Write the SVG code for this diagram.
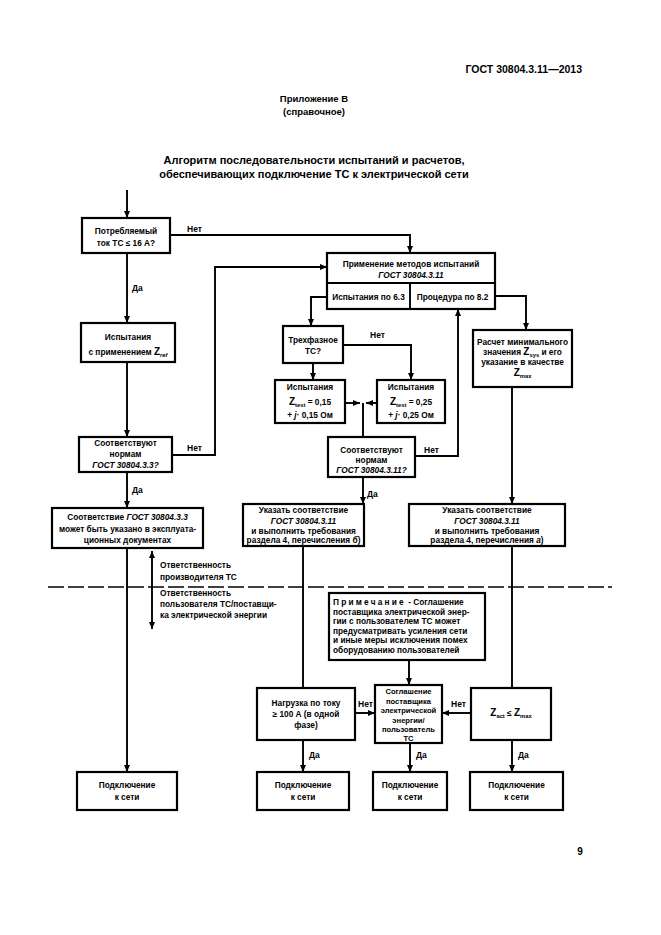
<svg xmlns="http://www.w3.org/2000/svg" width="661" height="935" viewBox="0 0 661 935">
<defs>
<marker id="ah" markerUnits="userSpaceOnUse" markerWidth="7" markerHeight="6" refX="7" refY="3" orient="auto">
<path d="M0,0 L7,3 L0,6 z" fill="#000"/>
</marker>
<marker id="ahs" markerUnits="userSpaceOnUse" markerWidth="7" markerHeight="6" refX="7" refY="3" orient="auto-start-reverse">
<path d="M0,0 L7,3 L0,6 z" fill="#000"/>
</marker>
</defs>
<style>
text{font-family:"Liberation Sans",Arial,sans-serif;font-weight:bold;fill:#000}
.t{font-size:8.3px;text-anchor:middle}
.s{font-size:7.6px;text-anchor:middle}
.l{font-size:8.3px}
.lab{font-size:8.5px}
.it{font-style:italic}
.sub{font-size:5.8px}
.z{font-size:10px}
.box{fill:#fff;stroke:#000;stroke-width:2.2}
.ln{fill:none;stroke:#000;stroke-width:1.9}
.ar{fill:none;stroke:#000;stroke-width:1.9;marker-end:url(#ah)}
</style>
<rect width="661" height="935" fill="#fff"/>

<text x="582" y="73" font-size="10.5" text-anchor="end">ГОСТ 30804.3.11—2013</text>
<text x="314" y="102" font-size="9.5" text-anchor="middle">Приложение В</text>
<text x="314" y="115" font-size="9.5" text-anchor="middle">(справочное)</text>
<text x="314" y="164" font-size="11" text-anchor="middle">Алгоритм последовательности испытаний и расчетов,</text>
<text x="314" y="178" font-size="11" text-anchor="middle">обеспечивающих подключение ТС к электрической сети</text>

<g id="connectors">
<path class="ar" d="M127,190 V218"/>
<path class="ar" d="M170,235 H410 V253"/>
<path class="ar" d="M127,253 V323"/>
<path class="ar" d="M127,362 V437"/>
<path class="ar" d="M172,455 H215 V267 H327"/>
<path class="ar" d="M127,472 V508"/>
<path class="ar" d="M127,548 V772"/>
<path class="ln" d="M152,551 V629" marker-start="url(#ahs)" marker-end="url(#ahs)"/>
<path class="ar" d="M327,297 H311 V326"/>
<path class="ar" d="M495,296 H526 V330"/>
<path class="ar" d="M313,363 V380"/>
<path class="ar" d="M343,345 H411 V380"/>
<path class="ar" d="M345,403 H360"/>
<path class="ar" d="M377,403 H366"/>
<path class="ln" d="M363,403 V437"/>
<path class="ar" d="M415,456 H458 V309"/>
<path class="ar" d="M363,477 V504"/>
<path class="ar" d="M512,387 V504"/>
<path class="ln" d="M303,546 V688"/>
<path class="ln" d="M512,546 V688"/>
<path class="ar" d="M409,660 V685"/>
<path class="ar" d="M355,713 H375"/>
<path class="ar" d="M471,713 H442"/>
<path class="ar" d="M303,740 V772"/>
<path class="ar" d="M410,743 V772"/>
<path class="ar" d="M512,740 V772"/>
<path d="M48,587 H612" fill="none" stroke="#000" stroke-width="1.5" stroke-dasharray="16 4"/>
<text class="lab" x="187" y="232">Нет</text>
<text class="lab" x="132" y="291">Да</text>
<text class="lab" x="187" y="451">Нет</text>
<text class="lab" x="132" y="493">Да</text>
<text class="lab" x="370" y="338">Нет</text>
<text class="lab" x="424" y="453">Нет</text>
<text class="lab" x="367" y="497">Да</text>
<text class="lab" x="358" y="707">Нет</text>
<text class="lab" x="451" y="707">Нет</text>
<text class="lab" x="309" y="758">Да</text>
<text class="lab" x="416" y="758">Да</text>
<text class="lab" x="518" y="758">Да</text>
<text class="l" x="160" y="568">Ответственность</text>
<text class="l" x="160" y="580">производителя ТС</text>
<text class="l" x="160" y="596">Ответственность</text>
<text class="l" x="160" y="607">пользователя ТС/поставщи-</text>
<text class="l" x="160" y="618">ка электрической энергии</text>
</g>

<g id="n1">
<rect class="box" x="82" y="218" width="88" height="35"/>
<text class="t" x="126" y="234">Потребляемый</text>
<text class="t" x="126" y="246">ток ТС ≤ 16 А?</text>
</g>
<g id="n2">
<rect class="box" x="81" y="323" width="94" height="39"/>
<text class="t" x="128" y="340">Испытания</text>
<text class="t" x="128" y="355">с применением <tspan class="z">Z</tspan><tspan class="sub it" dy="2">ref</tspan></text>
</g>
<g id="n3">
<rect class="box" x="79" y="437" width="93" height="35"/>
<text class="t" x="125.5" y="446">Соответствуют</text>
<text class="t" x="125.5" y="457">нормам</text>
<text class="t it" x="125.5" y="468">ГОСТ 30804.3.3?</text>
</g>
<g id="n4">
<rect class="box" x="52" y="508" width="151" height="40"/>
<text class="t" x="127.5" y="520">Соответствие <tspan class="it">ГОСТ 30804.3.3</tspan></text>
<text class="t" x="127.5" y="532">может быть указано в эксплуата-</text>
<text class="t" x="127.5" y="543">ционных документах</text>
</g>
<g id="n5">
<rect class="box" x="327" y="253" width="168" height="56"/>
<path class="ln" d="M327,283 H495 M410,283 V309"/>
<text class="t" x="411" y="267">Применение методов испытаний</text>
<text class="t it" x="411" y="278">ГОСТ 30804.3.11</text>
<text class="t" x="368.5" y="300">Испытания по 6.3</text>
<text class="t" x="452.5" y="300">Процедура по 8.2</text>
</g>
<g id="n6">
<rect class="box" x="283" y="326" width="60" height="37"/>
<text class="t" x="313" y="343">Трехфазное</text>
<text class="t" x="313" y="354">ТС?</text>
</g>
<g id="n7">
<rect class="box" x="275" y="380" width="70" height="43"/>
<text class="t" x="310" y="390">Испытания</text>
<text class="t" x="310" y="405"><tspan class="z">Z</tspan><tspan class="sub" dy="2">test</tspan><tspan dy="-2"> = 0,15</tspan></text>
<text class="t" x="310" y="418">+ <tspan class="it">j</tspan>· 0,15 Ом</text>
</g>
<g id="n8">
<rect class="box" x="377" y="380" width="68" height="43"/>
<text class="t" x="411" y="390">Испытания</text>
<text class="t" x="411" y="405"><tspan class="z">Z</tspan><tspan class="sub" dy="2">test</tspan><tspan dy="-2"> = 0,25</tspan></text>
<text class="t" x="411" y="418">+ <tspan class="it">j</tspan>· 0,25 Ом</text>
</g>
<g id="n9">
<rect class="box" x="328" y="437" width="87" height="40"/>
<text class="t" x="371.5" y="453">Соответствуют</text>
<text class="t" x="371.5" y="462.5">нормам</text>
<text class="t it" x="371.5" y="472.5">ГОСТ 30804.3.11?</text>
</g>
<g id="n10">
<rect class="box" x="243" y="504" width="121" height="42"/>
<text class="t" x="303.5" y="513">Указать соответствие</text>
<text class="t it" x="303.5" y="523.5">ГОСТ 30804.3.11</text>
<text class="t" x="303.5" y="534">и выполнить требования</text>
<text class="t" x="303.5" y="543">раздела 4, перечисления <tspan class="it">б</tspan>)</text>
</g>
<g id="n11">
<rect class="box" x="409" y="504" width="156" height="42"/>
<text class="t" x="487" y="513">Указать соответствие</text>
<text class="t it" x="487" y="523.5">ГОСТ 30804.3.11</text>
<text class="t" x="487" y="534">и выполнить требования</text>
<text class="t" x="487" y="543">раздела 4, перечисления <tspan class="it">а</tspan>)</text>
</g>
<g id="n12">
<rect class="box" x="473" y="330" width="99" height="57"/>
<text class="t" x="522.5" y="345">Расчет минимального</text>
<text class="t" x="522.5" y="355">значения <tspan class="z">Z</tspan><tspan class="sub" dy="2">sys</tspan><tspan dy="-2"> и его</tspan></text>
<text class="t" x="522.5" y="365">указание в качестве</text>
<text class="t" x="522.5" y="376"><tspan class="z">Z</tspan><tspan class="sub" dy="2">max</tspan></text>
</g>
<g id="n13">
<rect class="box" x="329" y="593" width="156" height="67" stroke-width="2.6"/>
<text class="l" x="333" y="605"><tspan letter-spacing="2.2">Примечание</tspan> - Соглашение</text>
<text class="l" x="333" y="614.5">поставщика электрической энер-</text>
<text class="l" x="333" y="624">гии с пользователем ТС может</text>
<text class="l" x="333" y="633.5">предусматривать усиления сети</text>
<text class="l" x="333" y="643">и иные меры исключения помех</text>
<text class="l" x="333" y="652.5">оборудованию пользователей</text>
</g>
<g id="n14">
<rect class="box" x="257" y="688" width="98" height="52"/>
<text class="t" x="306" y="706">Нагрузка по току</text>
<text class="t" x="306" y="717">≥ 100 А (в одной</text>
<text class="t" x="306" y="728">фазе)</text>
</g>
<g id="n15">
<rect class="box" x="375" y="685" width="67" height="58"/>
<text class="s" x="408.5" y="694">Соглашение</text>
<text class="s" x="408.5" y="703.5">поставщика</text>
<text class="s" x="408.5" y="713">электрической</text>
<text class="s" x="408.5" y="722.5">энергии/</text>
<text class="s" x="408.5" y="732">пользователь</text>
<text class="s" x="408.5" y="741">ТС</text>
</g>
<g id="n16">
<rect class="box" x="471" y="688" width="80" height="52"/>
<text class="t" x="511" y="716"><tspan class="z">Z</tspan><tspan class="sub" dy="2">act</tspan><tspan dy="-2"> ≤ </tspan><tspan class="z">Z</tspan><tspan class="sub" dy="2">max</tspan></text>
</g>
<g id="b1">
<rect class="box" x="77" y="772" width="100" height="38"/>
<text class="t" x="127" y="788">Подключение</text>
<text class="t" x="127" y="800">к сети</text>
</g>
<g id="b2">
<rect class="box" x="257" y="772" width="92" height="38"/>
<text class="t" x="303" y="788">Подключение</text>
<text class="t" x="303" y="800">к сети</text>
</g>
<g id="b3">
<rect class="box" x="373" y="772" width="74" height="38"/>
<text class="t" x="410" y="788">Подключение</text>
<text class="t" x="410" y="800">к сети</text>
</g>
<g id="b4">
<rect class="box" x="470" y="772" width="93" height="38"/>
<text class="t" x="516.5" y="788">Подключение</text>
<text class="t" x="516.5" y="800">к сети</text>
</g>
<text x="580" y="855" font-size="10" text-anchor="middle" font-weight="normal">9</text>
</svg>
